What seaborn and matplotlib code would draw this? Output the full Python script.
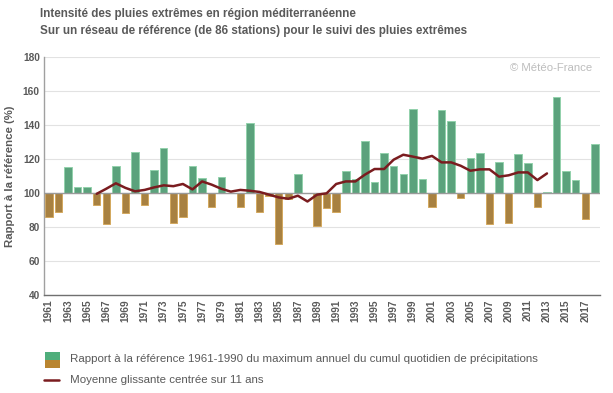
import numpy as np
import pandas as pd
import matplotlib
matplotlib.use("Agg")
import matplotlib.pyplot as plt
import seaborn as sns
from matplotlib.ticker import FuncFormatter, MultipleLocator
from matplotlib.patches import Rectangle
from matplotlib.lines import Line2D

years = list(range(1961, 2019))
ratio = [86, 89, 115.5, 103.7, 103.7, 93, 81.7, 116, 88.2, 124.1,
         93, 113.7, 126.5, 82.3, 86, 116, 109, 91.7, 109.6, 100,
         91.7, 141, 88.8, 98, 70.2, 96.3, 111.2, 100, 80.6, 91.2,
         88.8, 112.9, 108.4, 130.4, 106.6, 123.5, 115.9, 111.2, 149.6, 108.4,
         91.7, 149, 142.1, 96.9, 120.6, 123.5, 81.7, 118.2, 82.3, 122.9,
         117.6, 91.7, 100.8, 156.6, 113.1, 107.8, 84.7, 128.6]
ma_years = list(range(1966, 2014))
ma_values = [99.5, 102.5, 105.7, 103, 101, 101.8, 103.3, 104.5, 104, 105.3,
             102.1, 106.8, 104.9, 102.5, 100.8, 101.8, 101.3, 100.6, 99, 97.4,
             96.6, 98.4, 95, 99, 99.8, 105.3, 106.8, 106.8, 110.8, 114.1,
             114.1, 119.6, 122.5, 121.4, 120.2, 121.8, 118, 118, 116, 113.1,
             113.9, 113.9, 109.6, 110.4, 112.1, 112.1, 107.6, 111.5]
tick_years = list(range(1961, 2018, 2))

title1 = "Intensité des pluies extrêmes en région méditerranéenne"
title2 = "Sur un réseau de référence (de 86 stations) pour le suivi des pluies extrêmes"
ylabel = "Rapport à la référence (%)"
leg1 = "Rapport à la référence 1961-1990 du maximum annuel du cumul quotidien de précipitations"
leg2 = "Moyenne glissante centrée sur 11 ans"
credit = "© Météo-France"

BASE = 100
GREEN = "#4fae7b"
GREEN_EDGE = "#93d2ac"
BROWN = "#b98530"
BROWN_EDGE = "#d4a95f"
LINE = "#7a1c1f"
TXT = "#5a5a5a"

sns.set_theme(style="white")
plt.rcParams["font.family"] = ["Liberation Sans", "DejaVu Sans"]

df = pd.DataFrame({"year": years, "dev": np.array(ratio) - BASE})
df["sign"] = np.where(df["dev"] >= 0, "pos", "neg")
ma = pd.DataFrame({"year": ma_years, "dev": np.array(ma_values) - BASE})

fig = plt.figure(figsize=(6.13, 3.93), dpi=100)
fig.patch.set_facecolor("white")
ax = fig.add_axes([0.0718, 0.2494, 0.9072, 0.6056])
ax.set_facecolor("white")

sns.barplot(data=df, x="year", y="dev", hue="sign",
            palette={"pos": GREEN, "neg": BROWN}, native_scale=True,
            width=0.78, dodge=False, legend=False, ax=ax, zorder=2)
for p in ax.patches:
    if p.get_height() >= 0:
        p.set_edgecolor(GREEN_EDGE)
    else:
        p.set_edgecolor(BROWN_EDGE)
    p.set_linewidth(0.7)

sns.lineplot(data=ma, x="year", y="dev", color=LINE, linewidth=1.8, ax=ax, zorder=4)

ax.set_ylim(-60, 80)
ax.set_xlim(1960.5, 2018.55)
ax.yaxis.set_major_locator(MultipleLocator(20))
ax.yaxis.set_major_formatter(FuncFormatter(lambda v, pos: f"{v + BASE:.0f}"))
ax.set_xticks(tick_years)
ax.set_xticklabels([str(y) for y in tick_years], rotation=90)
ax.tick_params(axis="both", length=0, pad=3, labelsize=7.3, colors=TXT)
for lab in ax.get_xticklabels() + ax.get_yticklabels():
    lab.set_fontweight("bold")

ax.grid(axis="y", color="#e2e2e2", linewidth=0.8, zorder=0)
ax.set_axisbelow(True)
ax.axhline(0, color="#9a9a9a", linewidth=1.0, zorder=3)
for s in ["top", "right"]:
    ax.spines[s].set_visible(False)
ax.spines["left"].set_color("#a0a0a0")
ax.spines["left"].set_linewidth(1.0)
ax.spines["bottom"].set_color("#707070")
ax.spines["bottom"].set_linewidth(1.0)
ax.set_xlabel("")
ax.set_ylabel(ylabel, fontsize=8.2, fontweight="bold", color=TXT, labelpad=6)

ax.text(0.985, 0.955, credit, transform=ax.transAxes, ha="right", va="center",
        fontsize=8.2, color="#bdbdbd")

fig.text(40 / 613, 1 - 14 / 393, title1, fontsize=8.4, fontweight="bold", color=TXT, va="center")
fig.text(40 / 613, 1 - 31 / 393, title2, fontsize=8.4, fontweight="bold", color=TXT, va="center")

# legend
fig.patches.append(Rectangle((45 / 613, 1 - 360 / 393), 15 / 613, 8 / 393,
                             transform=fig.transFigure, facecolor=GREEN, edgecolor="none"))
fig.patches.append(Rectangle((45 / 613, 1 - 368 / 393), 15 / 613, 8 / 393,
                             transform=fig.transFigure, facecolor=BROWN, edgecolor="none"))
fig.lines.append(Line2D([44 / 613, 59 / 613], [1 - 380 / 393, 1 - 380 / 393],
                        transform=fig.transFigure, color=LINE, linewidth=1.8))
fig.text(70 / 613, 1 - 359 / 393, leg1, fontsize=8.25, color=TXT, va="center")
fig.text(70 / 613, 1 - 380 / 393, leg2, fontsize=8.25, color=TXT, va="center")

fig.savefig("out.png", dpi=100, facecolor="white")
